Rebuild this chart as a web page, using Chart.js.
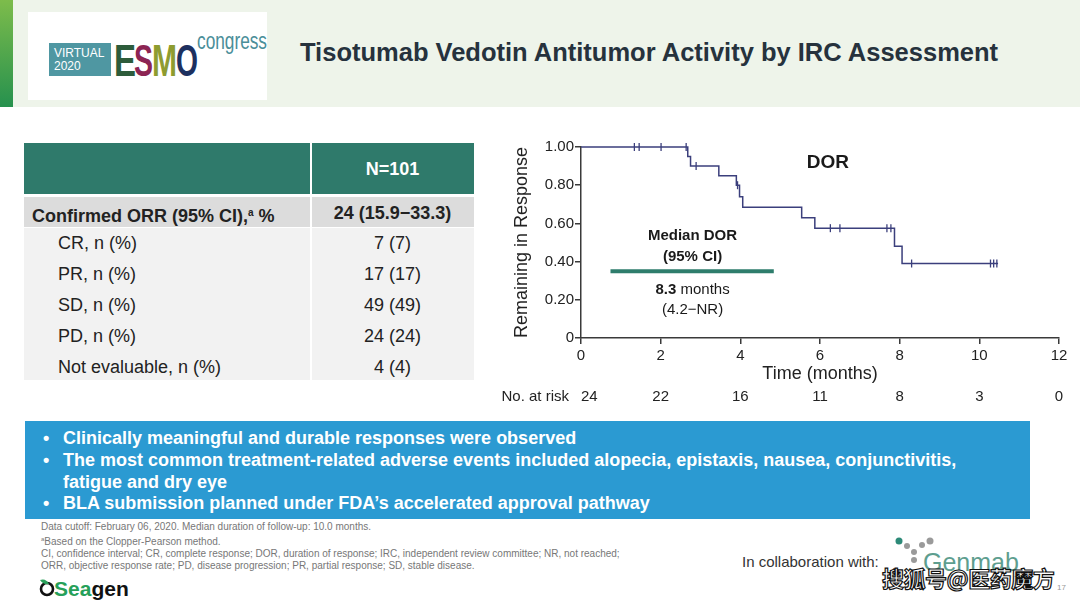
<!DOCTYPE html>
<html>
<head>
<meta charset="utf-8">
<script src="https://cdn.jsdelivr.net/npm/chart.js@4/dist/chart.umd.min.js"></script>
<style>
  body { margin:0; width:1080px; height:603px; overflow:hidden; background:#fff; position:relative;
         font-family:"Liberation Sans", Arial, sans-serif; color:#222; }
  .abs { position:absolute; }
  #header { left:0; top:0; width:1080px; height:107px; background:#eef4ea; }
  #greenbar { left:0; top:0; width:13px; height:107px; background:linear-gradient(#7dbc4b,#26914e); }
  #logo { left:28px; top:12px; width:239px; height:88px; background:#fff; }
  #title { left:300px; top:38px; font-size:25.5px; font-weight:bold; color:#26323d; white-space:nowrap; }
  .cell { position:absolute; white-space:nowrap; font-size:18px; line-height:20px; }
  .val { left:311px; width:163px; text-align:center; }
  #bullets { left:25px; top:421px; width:1005px; height:98px; background:#2b9ad2; }
  #bullets div { position:absolute; left:38px; color:#fff; font-weight:bold; font-size:18px; line-height:20px; white-space:nowrap; }
  #bullets span { position:absolute; left:-20px; }
  #notes { left:41px; top:521px; font-size:10px; line-height:12px; color:#777; white-space:nowrap; }
  #collab { left:742px; top:553px; font-size:15px; color:#333; }
  #wm { left:882px; top:561px; font-family:"Noto Sans CJK SC", sans-serif; font-weight:bold; font-size:22px;
        color:#fff; -webkit-text-stroke:1.2px #111; white-space:nowrap; letter-spacing:-0.5px; }
  #pg { left:1057px; top:583px; font-size:8px; color:#999; }
</style>
</head>
<body>
<div class="abs" id="header"></div>
<div class="abs" id="greenbar"></div>
<div class="abs" id="logo"></div>
<div class="abs" id="title">Tisotumab Vedotin Antitumor Activity by IRC Assessment</div>

<!-- logos -->
<svg class="abs" style="left:0;top:0" width="1080" height="603">
  <rect x="49" y="43" width="62" height="33" fill="#4f97a2"/>
  <text x="54" y="57" font-size="12" fill="#fff" font-family="Liberation Sans">VIRTUAL</text>
  <text x="54" y="70" font-size="12" fill="#fff" font-family="Liberation Sans">2020</text>
  <text x="114" y="76" font-size="45" font-weight="bold" font-family="Liberation Sans Narrow, Liberation Sans" fill="#2d5c3b" textLength="22" lengthAdjust="spacingAndGlyphs">E</text>
  <text x="134" y="76" font-size="45" font-weight="bold" font-family="Liberation Sans Narrow, Liberation Sans" fill="#8c2453" textLength="19" lengthAdjust="spacingAndGlyphs">S</text>
  <text x="152" y="76" font-size="45" font-weight="bold" font-family="Liberation Sans Narrow, Liberation Sans" fill="#8e9c30" textLength="25" lengthAdjust="spacingAndGlyphs">M</text>
  <text x="176" y="76" font-size="45" font-weight="bold" font-family="Liberation Sans Narrow, Liberation Sans" fill="#1d305f" textLength="22" lengthAdjust="spacingAndGlyphs">O</text>
  <text x="197" y="49" font-size="23" font-family="Liberation Sans Narrow, Liberation Sans" fill="#4a8e99" textLength="70" lengthAdjust="spacingAndGlyphs">congress</text>

  <circle cx="47" cy="589" r="6" fill="none" stroke="#111" stroke-width="2.6"/>
  <path d="M40 580 q6 -2 9 4 q-6 1 -9 -4z" fill="#2aa05a"/>
  <text x="54" y="596" font-size="21" font-weight="bold" font-family="Liberation Sans" fill="#26a059">Sea<tspan fill="#111">gen</tspan></text>

  <circle cx="899" cy="541" r="3.5" fill="#2d8a78"/>
  <circle cx="907" cy="546" r="3" fill="#9a9a9a"/>
  <circle cx="922" cy="545" r="3" fill="#9a9a9a"/>
  <circle cx="930" cy="541" r="3.5" fill="#9a9a9a"/>
  <circle cx="914" cy="552" r="3" fill="#9a9a9a"/>
  <circle cx="914" cy="560" r="3" fill="#9a9a9a"/>
  <text x="923" y="571" font-size="25" font-family="Liberation Sans" fill="#5e9e8f">Genmab</text>
</svg>

<!-- table -->
<div class="abs" style="left:24px;top:143px;width:450px;height:51px;background:#2f7a6b"></div>
<div class="abs" style="left:24px;top:197px;width:450px;height:30px;background:#dcdcdc"></div>
<div class="abs" style="left:24px;top:228px;width:450px;height:152px;background:#f2f2f2"></div>
<div class="abs" style="left:310px;top:143px;width:2px;height:237px;background:#fff"></div>
<div class="cell val" style="top:159px;color:#fff;font-weight:bold">N=101</div>
<div class="cell" style="left:32px;top:203px;font-weight:bold">Confirmed ORR (95% CI),<sup style="font-size:10px;vertical-align:6px">a</sup> %</div>
<div class="cell val" style="top:203px;font-weight:bold">24 (15.9−33.3)</div>
<div class="cell" style="left:58px;top:233px">CR, n (%)</div>
<div class="cell val" style="top:233px">7 (7)</div>
<div class="cell" style="left:58px;top:264px">PR, n (%)</div>
<div class="cell val" style="top:264px">17 (17)</div>
<div class="cell" style="left:58px;top:295px">SD, n (%)</div>
<div class="cell val" style="top:295px">49 (49)</div>
<div class="cell" style="left:58px;top:326px">PD, n (%)</div>
<div class="cell val" style="top:326px">24 (24)</div>
<div class="cell" style="left:58px;top:357px">Not evaluable, n (%)</div>
<div class="cell val" style="top:357px">4 (4)</div>

<!-- chart -->
<canvas id="km" class="abs" style="left:490px;top:130px" width="590" height="280"></canvas>

<!-- key points -->
<div class="abs" id="bullets">
  <div style="top:7px"><span>•</span>Clinically meaningful and durable responses were observed</div>
  <div style="top:29px"><span>•</span>The most common treatment-related adverse events included alopecia, epistaxis, nausea, conjunctivitis,</div>
  <div style="top:51px">fatigue and dry eye</div>
  <div style="top:72px"><span>•</span>BLA submission planned under FDA’s accelerated approval pathway</div>
</div>

<div class="abs" id="notes">
  Data cutoff: February 06, 2020. Median duration of follow-up: 10.0 months.<br>
  <sup style="font-size:6px">a</sup>Based on the Clopper-Pearson method.<br>
  CI, confidence interval; CR, complete response; DOR, duration of response; IRC, independent review committee; NR, not reached;<br>
  ORR, objective response rate; PD, disease progression; PR, partial response; SD, stable disease.
</div>
<div class="abs" id="collab">In collaboration with:</div>
<div class="abs" id="wm">搜狐号@医药魔方</div>
<div class="abs" id="pg">17</div>

<script>
// Kaplan-Meier DOR curve (time in months, proportion remaining in response)
const kmTimes    = [0, 2.68, 2.75, 3.46, 3.90, 3.98, 4.06, 5.54, 5.87, 7.87, 8.06, 10.47];
const kmSurvival = [1.00, 0.95, 0.90, 0.85, 0.80, 0.74, 0.685, 0.63, 0.575, 0.48, 0.39, 0.39];

// censored observations
const censorTimes    = [1.34, 1.46, 2.01, 2.64, 2.89, 3.93, 6.26, 6.50, 7.68, 7.78, 8.30, 10.28, 10.36, 10.44];
const censorSurvival = [1, 1, 1, 1, 0.90, 0.80, 0.575, 0.575, 0.575, 0.575, 0.39, 0.39, 0.39, 0.39];

// number at risk
const riskTimes  = [0, 2, 4, 6, 8, 10, 12];
const riskCounts = [24, 22, 16, 11, 8, 3, 0];

const xTicks = [0, 2, 4, 6, 8, 10, 12];
const yTicks = [0, 0.2, 0.4, 0.6, 0.8, 1.0];

const LINE = '#3b3f7c';
const AXIS = '#3a3a3a';
const FONT = '"Liberation Sans", Arial, sans-serif';

const kmPoints = kmTimes.map((t, i) => ({x: t, y: kmSurvival[i]}));
const censorPoints = censorTimes.map((t, i) => ({x: t, y: censorSurvival[i]}));

// text labels and at-risk row
const kmExtras = {
  id: 'kmExtras',
  afterDraw(chart) {
    const {ctx, scales: {x, y}} = chart;
    ctx.save();
    ctx.textAlign = 'center';
    ctx.textBaseline = 'middle';
    ctx.fillStyle = '#1a1a1a';

    ctx.font = 'bold 19px ' + FONT;
    ctx.fillText('DOR', x.getPixelForValue(6.2), y.getPixelForValue(0.915));

    const cx = x.getPixelForValue(2.8);
    ctx.font = 'bold 15px ' + FONT;
    ctx.fillText('Median DOR', cx, y.getPixelForValue(0.533));
    ctx.fillText('(95% CI)', cx, y.getPixelForValue(0.425));

    ctx.strokeStyle = '#2e7d6c';
    ctx.lineWidth = 4;
    ctx.beginPath();
    ctx.moveTo(x.getPixelForValue(0.74), y.getPixelForValue(0.35));
    ctx.lineTo(x.getPixelForValue(4.84), y.getPixelForValue(0.35));
    ctx.stroke();

    // "8.3 months" with bold number
    const yy = y.getPixelForValue(0.25);
    ctx.font = 'bold 15px ' + FONT;
    const w1 = ctx.measureText('8.3').width;
    ctx.font = '15px ' + FONT;
    const w2 = ctx.measureText(' months').width;
    const sx = cx - (w1 + w2) / 2;
    ctx.textAlign = 'left';
    ctx.font = 'bold 15px ' + FONT;
    ctx.fillText('8.3', sx, yy);
    ctx.font = '15px ' + FONT;
    ctx.fillText(' months', sx + w1, yy);
    ctx.textAlign = 'center';
    ctx.fillText('(4.2−NR)', cx, y.getPixelForValue(0.147));

    // number at risk
    const ry = chart.height - 13;
    ctx.fillStyle = '#222';
    ctx.font = '15px ' + FONT;
    ctx.textAlign = 'right';
    ctx.fillText('No. at risk', x.getPixelForValue(0) - 12, ry);
    riskTimes.forEach((t, i) => {
      ctx.textAlign = i === 0 ? 'left' : 'center';
      ctx.fillText(String(riskCounts[i]), x.getPixelForValue(t), ry);
    });
    ctx.restore();
  }
};

new Chart(document.getElementById('km'), {
  type: 'line',
  data: {
    datasets: [
      {
        label: 'DOR',
        data: kmPoints,
        stepped: true,
        borderColor: LINE,
        borderWidth: 1.5,
        pointRadius: 0,
        fill: false,
        clip: false
      },
      {
        label: 'Censored',
        data: censorPoints,
        showLine: false,
        pointStyle: 'line',
        rotation: 90,
        pointRadius: 4,
        pointBorderWidth: 1.3,
        borderColor: LINE,
        backgroundColor: LINE,
        clip: false
      }
    ]
  },
  plugins: [kmExtras],
  options: {
    responsive: false,
    animation: false,
    events: [],
    layout: { padding: { left: 0, right: 21, top: 17, bottom: 24 } },
    plugins: { legend: { display: false }, tooltip: { enabled: false } },
    scales: {
      x: {
        type: 'linear',
        min: 0, max: 12,
        afterFit: s => { s.height = 48; },
        afterBuildTicks: s => { s.ticks = xTicks.map(v => ({value: v})); },
        grid: { drawOnChartArea: false, tickLength: 6, color: AXIS, lineWidth: 1.5 },
        border: { color: AXIS, width: 1.5 },
        ticks: { color: '#222', font: { size: 15, family: FONT }, padding: 3, maxRotation: 0 },
        title: { display: true, text: 'Time (months)', color: '#222', font: { size: 18, family: FONT }, padding: { top: 0, bottom: 1 } }
      },
      y: {
        min: 0, max: 1,
        afterFit: s => { s.width = 91; },
        afterBuildTicks: s => { s.ticks = yTicks.map(v => ({value: v})); },
        grid: { drawOnChartArea: false, tickLength: 6, color: AXIS, lineWidth: 1.5 },
        border: { color: AXIS, width: 1.5 },
        ticks: {
          color: '#222', font: { size: 15, family: FONT }, padding: 1,
          callback: v => v === 0 ? '0' : v.toFixed(2)
        },
        title: { display: true, text: 'Remaining in Response', color: '#222', font: { size: 18, family: FONT }, padding: { top: 21, bottom: 0 } }
      }
    }
  }
});
</script>
</body>
</html>
